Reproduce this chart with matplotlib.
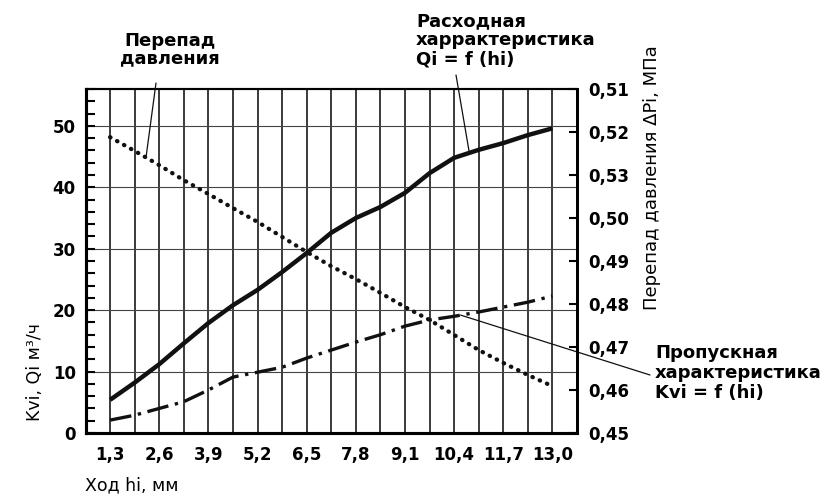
import matplotlib
matplotlib.use('Agg')
import matplotlib.pyplot as plt
from matplotlib.ticker import MultipleLocator, FixedLocator

# ---- data ----
hod = [1.3, 1.95, 2.6, 3.25, 3.9, 4.55, 5.2, 5.85, 6.5, 7.15, 7.8, 8.45,
       9.1, 9.75, 10.4, 11.05, 11.7, 12.35, 13.0]
qi = [5.4, 8.2, 11.2, 14.6, 17.9, 20.8, 23.3, 26.2, 29.3, 32.6, 35.0, 36.8,
      39.1, 42.3, 44.8, 46.1, 47.2, 48.5, 49.6]
kvi = [2.1, 2.9, 4.0, 5.1, 7.0, 9.1, 9.9, 10.7, 12.2, 13.5, 14.8, 16.0,
       17.4, 18.4, 19.0, 19.7, 20.5, 21.3, 22.3]
dp = [0.5188, 0.5156, 0.5123, 0.5088, 0.5056, 0.5023, 0.4991, 0.4956, 0.4921,
      0.4888, 0.4858, 0.4826, 0.4793, 0.4763, 0.4728, 0.4693, 0.4663, 0.4635, 0.4609]

x_ticks = [1.3, 2.6, 3.9, 5.2, 6.5, 7.8, 9.1, 10.4, 11.7, 13.0]
x_labels = ['1,3', '2,6', '3,9', '5,2', '6,5', '7,8', '9,1', '10,4', '11,7', '13,0']
x_grid = [0.65 * k for k in range(2, 21)]
y_ticks = [0, 10, 20, 30, 40, 50]
dp_ticks = [0.45, 0.46, 0.47, 0.48, 0.49, 0.50, 0.51, 0.52, 0.53]
dp_labels = ['0,45', '0,46', '0,47', '0,48', '0,49', '0,50', '0,53', '0,52', '0,51']

fig = plt.figure(figsize=(8.27, 4.96), dpi=100)
ax = fig.add_axes([0.1034, 0.127, 0.5943, 0.6935])

ax.set_xlim(0.65, 13.65)
ax.set_ylim(0, 56)

# grid
for xv in x_grid:
    ax.axvline(xv, color='#1a1a1a', lw=1.2, zorder=1)
for yv in y_ticks[1:]:
    ax.axhline(yv, color='#444444', lw=0.8, zorder=1)

ax.plot(hod, qi, color='#111111', lw=3.2, solid_capstyle='butt',
        solid_joinstyle='round', zorder=3)
ax.plot(hod, kvi, color='#111111', lw=2.4, linestyle=(0, (6.5, 2.0, 1.0, 2.0)),
        dash_capstyle='butt', zorder=3)

ax.set_xticks(x_ticks)
ax.set_xticklabels(x_labels)
ax.set_yticks(y_ticks)
ax.yaxis.set_minor_locator(MultipleLocator(2))
ax.tick_params(axis='x', length=0, pad=9, labelsize=12)
ax.tick_params(axis='y', which='both', direction='in', length=6.5, width=1.5,
               pad=7, labelsize=12, right=False)
for lab in ax.get_xticklabels() + ax.get_yticklabels():
    lab.set_fontweight('bold')

for s in ['left', 'bottom']:
    ax.spines[s].set_linewidth(2.2)
ax.spines['top'].set_linewidth(1.5)
ax.spines['right'].set_linewidth(2.0)

ax2 = ax.twinx()
ax2.set_ylim(0.45, 0.53)
ax2.plot(hod, dp, color='#111111', lw=3.1, linestyle=(0, (0.1, 1.75)),
         dash_capstyle='round', zorder=3)
ax2.yaxis.set_major_locator(FixedLocator(dp_ticks))
ax2.set_yticklabels(dp_labels)
ax2.tick_params(axis='y', direction='in', length=6, width=1.5, pad=8, labelsize=12)
for lab in ax2.get_yticklabels():
    lab.set_fontweight('bold')
ax2.spines['right'].set_linewidth(2.0)
ax2.spines['top'].set_linewidth(1.5)
ax2.spines['left'].set_linewidth(2.2)
ax2.spines['bottom'].set_linewidth(2.2)

# axis labels
fig.text(85 / 827, 1 - 485 / 496, 'Ход hi, мм', fontsize=12.5, ha='left', va='center')
fig.text(35 / 827, 1 - 372 / 496, 'Kvi, Qi м³/ч', fontsize=12.5, rotation=90,
         ha='center', va='center')
fig.text(652 / 827, 1 - 178 / 496, 'Перепад давления ΔPi, МПа', fontsize=13,
         rotation=90, ha='center', va='center')

# annotations
fig.text(170 / 827, 1 - 32 / 496, 'Перепад\nдавления', fontsize=13, fontweight='bold',
         ha='center', va='top', multialignment='center', linespacing=0.95)
fig.text(416 / 827, 1 - 12 / 496, 'Расходная\nхаррактеристика\nQi = f (hi)',
         fontsize=13, fontweight='bold', ha='left', va='top', linespacing=1.1)
fig.text(655 / 827, 1 - 344 / 496, 'Пропускная\nхарактеристика\nKvi = f (hi)',
         fontsize=13, fontweight='bold', ha='left', va='top', linespacing=1.15)

ax2.annotate('', xy=(2.25, 0.5141), xycoords='data',
             xytext=(156, 496 - 83), textcoords='figure pixels',
             arrowprops=dict(arrowstyle='-', lw=0.9, color='#111111', shrinkA=0, shrinkB=0))
ax.annotate('', xy=(10.8, 45.7), xycoords='data',
            xytext=(456, 496 - 75), textcoords='figure pixels',
            arrowprops=dict(arrowstyle='-', lw=0.9, color='#111111', shrinkA=0, shrinkB=0),
            annotation_clip=False)
ax.annotate('', xy=(10.57, 19.2), xycoords='data',
            xytext=(650, 496 - 375), textcoords='figure pixels',
            arrowprops=dict(arrowstyle='-', lw=0.9, color='#111111', shrinkA=0, shrinkB=0),
            annotation_clip=False)

fig.savefig('out.png', dpi=100)
